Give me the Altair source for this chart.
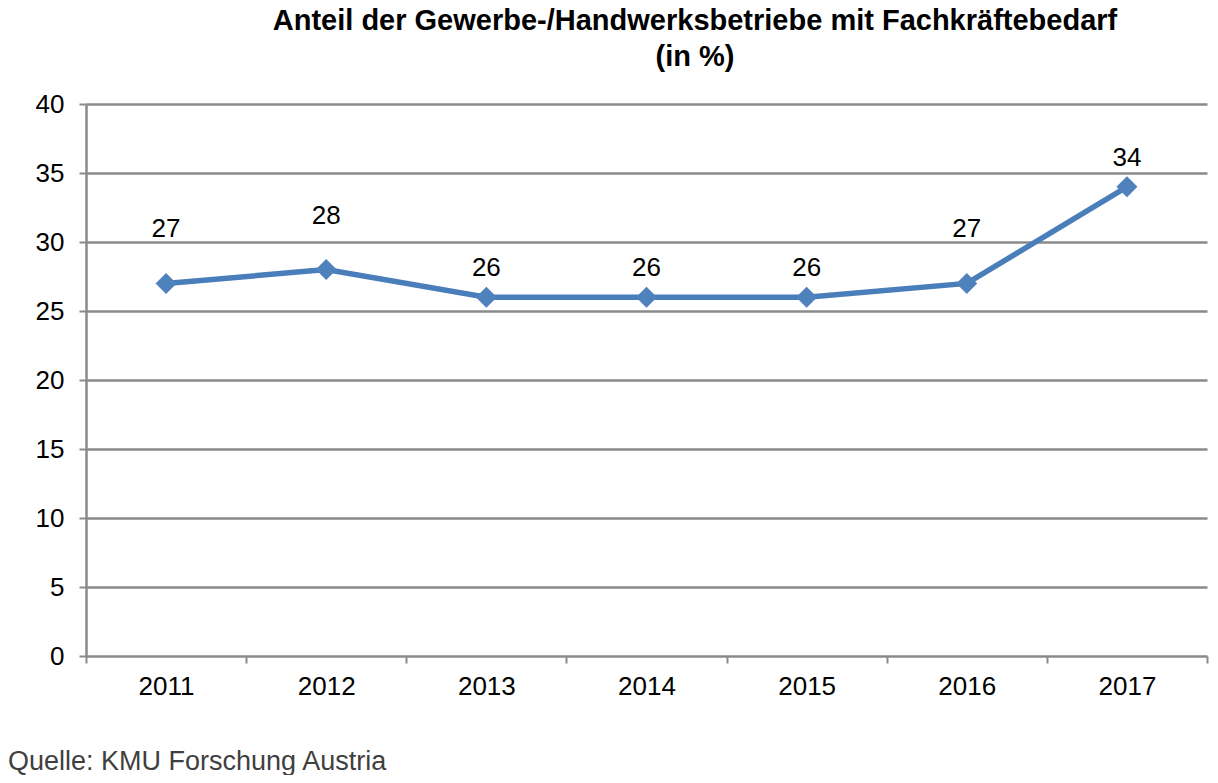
import altair as alt
import pandas as pd

years = ["2011", "2012", "2013", "2014", "2015", "2016", "2017"]
values = [27, 28, 26, 26, 26, 27, 34]
high_label_years = ["2011", "2012", "2016"]
title_line1 = "Anteil  der Gewerbe-/Handwerksbetriebe mit Fachkräftebedarf"
title_line2 = "(in %)"
source_text = "Quelle: KMU Forschung Austria"
y_ticks = [0, 5, 10, 15, 20, 25, 30, 35, 40]

df = pd.DataFrame({"Jahr": years, "Wert": values})

W, H = 1121, 552
LINE = "#4A7EBB"
GRID = "#8A8A8A"

x_enc = alt.X("Jahr:N", scale=alt.Scale(type="band", paddingInner=0, paddingOuter=0),
              bandPosition=0.5,
              axis=alt.Axis(title=None, labelAngle=0, tickBand="extent", grid=False,
                            domain=False, ticks=True, tickSize=7, tickColor=GRID, tickWidth=2,
                            labelFontSize=26, labelColor="#000000", labelPadding=10,
                            labelFont="Liberation Sans"))
y_enc = alt.Y("Wert:Q", scale=alt.Scale(domain=[0, 40], nice=False),
              axis=alt.Axis(title=None, values=y_ticks, grid=True, gridColor=GRID, gridWidth=2.5,
                            domain=True, domainColor=GRID, domainWidth=2.5,
                            tickSize=7, tickColor=GRID, tickWidth=2,
                            labelFontSize=26, labelColor="#000000", labelPadding=15,
                            labelFont="Liberation Sans"))

base = alt.Chart(df)

line = base.mark_line(color=LINE, strokeWidth=5.5).encode(x=x_enc, y=y_enc)
points = base.mark_point(shape="diamond", filled=True, size=440, color="#4F81BD", opacity=1).encode(x=x_enc, y=y_enc)

lbl_hi = base.transform_filter(alt.FieldOneOfPredicate(field="Jahr", oneOf=high_label_years)).mark_text(
    fontSize=26, font="Liberation Sans", color="#000000", dy=-54, baseline="middle"
).encode(x=x_enc, y=y_enc, text="Wert:Q")
lbl_lo = base.transform_filter(~alt.FieldOneOfPredicate(field="Jahr", oneOf=high_label_years)).mark_text(
    fontSize=26, font="Liberation Sans", color="#000000", dy=-29, baseline="middle"
).encode(x=x_enc, y=y_enc, text="Wert:Q")

def title_text(txt, yv):
    return alt.Chart(pd.DataFrame({"t": [txt]})).mark_text(
        fontSize=29, font="Liberation Sans", fontWeight="bold", color="#000000",
        align="center", baseline="middle"
    ).encode(x=alt.value(609), y=alt.value(yv), text="t:N")

t1 = title_text(title_line1, -83)
t2 = title_text(title_line2, -47)

src = alt.Chart(pd.DataFrame({"s": [source_text]})).mark_text(
    fontSize=27, font="Liberation Sans", color="#3F3F3F", align="left", baseline="middle"
).encode(x=alt.value(-78), y=alt.value(658), text="s:N")

chart = alt.layer(line, points, lbl_hi, lbl_lo, t1, t2, src).properties(
    width=W, height=H,
    autosize=alt.AutoSizeParams(type="none"),
    padding={"left": 78, "top": 96, "right": 3, "bottom": 119},
    background="white",
).configure_view(stroke=None)

chart.save("out.html", embed_options={"renderer": "svg", "actions": False})
